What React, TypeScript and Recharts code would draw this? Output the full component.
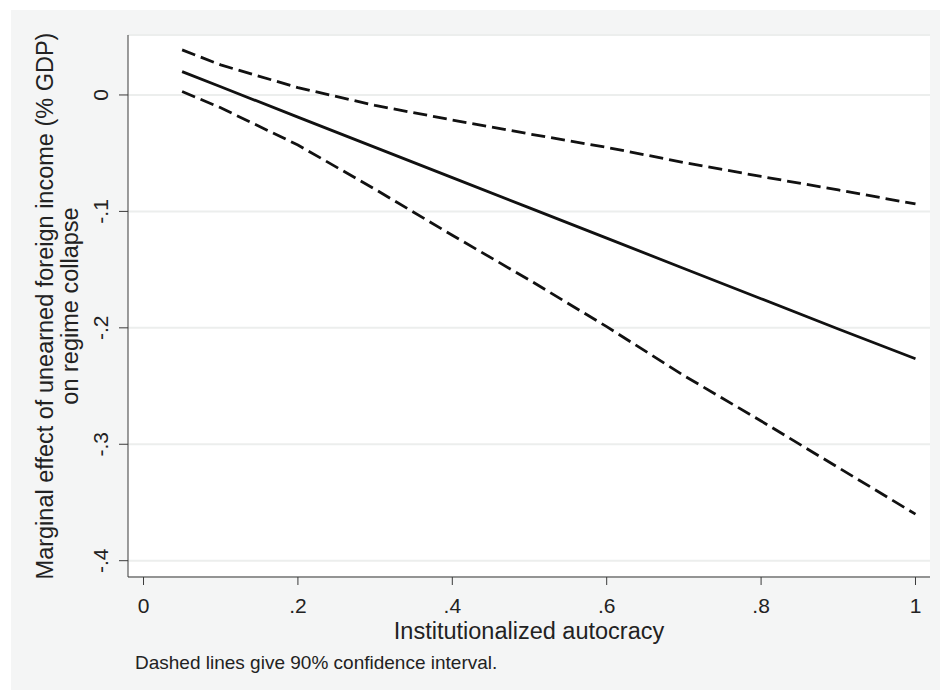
import React from 'react';
import { LineChart, Line, XAxis, YAxis, CartesianGrid } from 'recharts';

// Institutionalized autocracy (x) and the marginal effect with its 90% band
const autocracy = [0.05, 0.1, 0.2, 0.3, 0.4, 0.5, 0.6, 0.7, 0.8, 0.9, 1.0];
const effect = [0.02, 0.007, -0.019, -0.045, -0.071, -0.097, -0.123, -0.149, -0.175, -0.201, -0.2265];
const upperCI = [0.0387, 0.0258, 0.0063, -0.009, -0.0215, -0.0335, -0.045, -0.058, -0.07, -0.0816, -0.0936];
const lowerCI = [0.003, -0.011, -0.043, -0.081, -0.1205, -0.159, -0.199, -0.241, -0.28, -0.32, -0.36];

const xTicks = [0, 0.2, 0.4, 0.6, 0.8, 1];
const yTicks = [0, -0.1, -0.2, -0.3, -0.4];

const data = autocracy.map((x, i) => ({
    x,
    effect: effect[i],
    upper: upperCI[i],
    lower: lowerCI[i],
}));

const FONT = '"Liberation Sans", Arial, Helvetica, sans-serif';
const INK = '#222';
const AXIS = '#3a3a3a';

const fmt = (v: number) => String(v).replace('0.', '.');

const YTick = ({ x, y, payload }: any) => (
    <text
        x={x}
        y={y}
        transform={`rotate(-90, ${x}, ${y})`}
        textAnchor="middle"
        fontSize={21}
        fontFamily={FONT}
        fill={INK}
    >
        {fmt(payload.value)}
    </text>
);

const XTick = ({ x, y, payload }: any) => (
    <text x={x} y={y} dy="0.71em" textAnchor="middle" fontSize={21} fontFamily={FONT} fill={INK}>
        {fmt(payload.value)}
    </text>
);

const YTitle = ({ viewBox }: any) => {
    const cy = viewBox.y + viewBox.height / 2;
    const x1 = viewBox.x + 25;
    const x2 = viewBox.x + 50;
    return (
        <g fontFamily={FONT} fontSize={23.5} fill={INK}>
            <text x={x1} y={cy} transform={`rotate(-90, ${x1}, ${cy})`} textAnchor="middle">
                Marginal effect of unearned foreign income (% GDP)
            </text>
            <text x={x2} y={cy} transform={`rotate(-90, ${x2}, ${cy})`} textAnchor="middle">
                on regime collapse
            </text>
        </g>
    );
};

const XTitle = ({ viewBox }: any) => (
    <g fontFamily={FONT} fill={INK}>
        <text x={viewBox.x + viewBox.width / 2} y={viewBox.y + 62} textAnchor="middle" fontSize={23.5}>
            Institutionalized autocracy
        </text>
        <text x={135} y={viewBox.y + 92} fontSize={19}>
            Dashed lines give 90% confidence interval.
        </text>
    </g>
);

export default function App() {
    return (
        <div style={{ position: 'absolute', left: 0, top: 0, width: 940, height: 690, background: '#fff', overflow: 'hidden' }}>
            <div style={{ position: 'absolute', left: 11, top: 10, right: 0, bottom: 0, background: '#f4f5f5' }} />
            <div style={{ position: 'absolute', left: 0, top: 0 }}>
                <LineChart
                    width={940}
                    height={690}
                    data={data}
                    margin={{ top: 35, right: 10, left: 28, bottom: 53 }}
                >
                    <CartesianGrid vertical={false} stroke="#eceeed" strokeWidth={2} fill="#fff" />
                    <XAxis
                        dataKey="x"
                        type="number"
                        domain={[-0.0201, 1.0188]}
                        ticks={xTicks}
                        allowDataOverflow
                        height={60}
                        tickSize={8}
                        tickMargin={13}
                        tick={<XTick />}
                        stroke={AXIS}
                        tickLine={{ stroke: AXIS }}
                        label={<XTitle />}
                    />
                    <YAxis
                        type="number"
                        domain={[-0.414, 0.0515]}
                        ticks={yTicks}
                        allowDataOverflow
                        width={100}
                        tickSize={9}
                        tickMargin={11}
                        tick={<YTick />}
                        stroke={AXIS}
                        tickLine={{ stroke: AXIS }}
                        label={<YTitle />}
                    />
                    <Line dataKey="upper" type="linear" stroke="#111" strokeWidth={2.8} strokeDasharray="14 6" dot={false} isAnimationActive={false} />
                    <Line dataKey="effect" type="linear" stroke="#111" strokeWidth={2.8} dot={false} isAnimationActive={false} />
                    <Line dataKey="lower" type="linear" stroke="#111" strokeWidth={2.8} strokeDasharray="14 6" dot={false} isAnimationActive={false} />
                </LineChart>
            </div>
        </div>
    );
}
